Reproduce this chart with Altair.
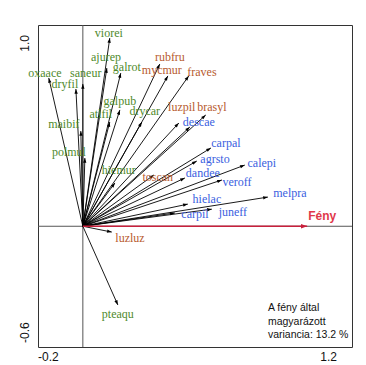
import altair as alt
import pandas as pd

# ---- data ----
species = ["viorei", "ajurep", "galrot", "saneur", "oxaace", "dryfil", "maibif", "polmul",
           "galpub", "atlfil", "drycar", "hiemur", "pteaqu",
           "rubfru", "mycmur", "fraves", "luzpil", "brasyl", "toscan", "luzluz",
           "descae", "carpal", "agrsto", "calepi", "dandee", "veroff", "melpra",
           "hielac", "carpil", "juneff"]
group = ["g"] * 13 + ["o"] * 7 + ["b"] * 10
tip_x = [0.120, 0.107, 0.169, 0.000, -0.152, -0.031, -0.009, 0.009,
         0.165, 0.120, 0.263, 0.143, 0.156,
         0.343, 0.379, 0.472, 0.428, 0.548, 0.317, 0.129,
         0.477, 0.571, 0.508, 0.722, 0.455, 0.620, 0.825,
         0.468, 0.410, 0.575]
tip_y = [0.935, 0.786, 0.761, 0.707, 0.737, 0.682, 0.473, 0.339,
         0.578, 0.518, 0.518, 0.215, -0.391,
         0.806, 0.747, 0.747, 0.513, 0.553, 0.255, -0.029,
         0.493, 0.389, 0.324, 0.304, 0.240, 0.230, 0.145,
         0.110, 0.066, 0.085]
lab_x = [0.116, 0.103, 0.196, 0.013, -0.169, -0.080, -0.085, -0.062,
         0.165, 0.080, 0.276, 0.160, 0.156,
         0.388, 0.352, 0.531, 0.441, 0.575, 0.334, 0.210,
         0.517, 0.638, 0.589, 0.798, 0.535, 0.687, 0.923,
         0.553, 0.500, 0.669]
lab_y = [0.960, 0.841, 0.791, 0.761, 0.761, 0.707, 0.508, 0.369,
         0.622, 0.558, 0.573, 0.280, -0.436,
         0.841, 0.776, 0.766, 0.592, 0.592, 0.245, -0.058,
         0.518, 0.414, 0.334, 0.314, 0.265, 0.220, 0.165,
         0.135, 0.061, 0.071]

env_name = ["Fény"]
env_x = [1.0]
env_y = [0.0]

x_ticks = [-0.2, 0.0, 0.2, 0.4, 0.6, 0.8, 1.0, 1.2]
y_ticks = [-0.6, -0.4, -0.2, 0.0, 0.2, 0.4, 0.6, 0.8, 1.0]
note_lines = ["A fény által", "magyarázott", "variancia: 13.2 %"]

# ---- layout ----
W, H = 314, 322
XD, YD = [-0.2, 1.2], [-0.6, 1.0]
PXX = W / (XD[1] - XD[0])
PXY = H / (YD[1] - YD[0])

HEAD = "M0,0L-0.35,1L0.35,1Z"
GREEN, ORANGE, BLUE = "#4f8a2c", "#b75a2e", "#3a60e0"

df = pd.DataFrame(dict(sp=species, x=tip_x, y=tip_y, lx=lab_x, ly=lab_y, grp=group))
df["x0"] = 0.0
df["y0"] = 0.0
denv = pd.DataFrame(dict(name=env_name, x=env_x, y=env_y, x0=0.0, y0=0.0))

xs = alt.Scale(domain=XD, nice=False, zero=False, padding=0)
ys = alt.Scale(domain=YD, nice=False, zero=False, padding=0)


def X(f, axis=None):
    return alt.X(f, type="quantitative", scale=xs, axis=axis)


def Y(f, axis=None):
    return alt.Y(f, type="quantitative", scale=ys, axis=axis)


xaxis = alt.Axis(values=x_ticks, labels=False, domain=False, grid=False, tickSize=3,
                 offset=-3, tickColor="#222", title=None)
yaxis = alt.Axis(values=y_ticks, labels=False, domain=False, grid=False, tickSize=3,
                 offset=-3, tickColor="#222", title=None)

zeros = pd.DataFrame({"v": [0.0]})
vline = alt.Chart(zeros).mark_rule(color="#555", strokeWidth=1).encode(
    x=X("v", xaxis))
hline = alt.Chart(zeros).mark_rule(color="#555", strokeWidth=1).encode(
    y=Y("v", yaxis))

ang_expr = f"(atan2(datum.x*{PXX}, datum.y*{PXY})*180/PI + 360) % 360"

arrows = alt.Chart(df).mark_rule(color="black", strokeWidth=0.9).encode(
    x=X("x0"), y=Y("y0"), x2="x:Q", y2="y:Q")
heads = alt.Chart(df).transform_calculate(ang=ang_expr).mark_point(
    shape=HEAD, filled=True, size=90, color="black", opacity=1, strokeWidth=0
).encode(x=X("x"), y=Y("y"), angle=alt.Angle("ang:Q", scale=None))

labels = alt.Chart(df).mark_text(font="Liberation Serif", fontSize=12, baseline="middle",
                                  align="center").encode(
    x=X("lx"), y=Y("ly"), text="sp:N",
    color=alt.Color("grp:N", scale=alt.Scale(domain=["g", "o", "b"],
                                             range=[GREEN, ORANGE, BLUE]), legend=None))

env_arrow = alt.Chart(denv).mark_rule(color="#c8203c", strokeWidth=1.6).encode(
    x=X("x0"), y=Y("y0"), x2="x:Q", y2="y:Q")
env_head = alt.Chart(denv).transform_calculate(ang=ang_expr).mark_point(
    shape=HEAD, filled=True, size=150, color="#c8203c", opacity=1, strokeWidth=0
).encode(x=X("x"), y=Y("y"), angle=alt.Angle("ang:Q", scale=None))
env_label = alt.Chart(denv).mark_text(font="Liberation Sans", fontSize=12, fontWeight="bold",
                                      color="#e0384a", align="left", baseline="middle",
                                      dx=1, dy=-10).encode(
    x=X("x"), y=Y("y"), text="name:N")

notes = pd.DataFrame({"t": note_lines, "i": [0, 1, 2]})
notes["x"] = 0.825
notes["y"] = [-0.406, -0.474, -0.540]
note_text = alt.Chart(notes).mark_text(font="Liberation Sans", fontSize=10.5, align="left",
                                       baseline="middle", color="#111").encode(
    x=X("x"), y=Y("y"), text="t:N")

# axis end labels
xl = pd.DataFrame({"x": [XD[0], XD[1]], "y": [YD[0], YD[0]], "t": ["-0.2", "1.2"]})
yl = pd.DataFrame({"x": [XD[0], XD[0]], "y": [YD[1], YD[0]], "t": ["1.0", "-0.6"]})
xlab_l = alt.Chart(xl.iloc[[0]]).mark_text(font="Liberation Sans", fontSize=12, align="left",
                                           baseline="middle", dy=10, color="#111").encode(
    x=X("x"), y=Y("y"), text="t:N")
xlab_r = alt.Chart(xl.iloc[[1]]).mark_text(font="Liberation Sans", fontSize=12, align="right",
                                           baseline="middle", dy=10, dx=-15, color="#111").encode(
    x=X("x"), y=Y("y"), text="t:N")
ylab_t = alt.Chart(yl.iloc[[0]]).mark_text(font="Liberation Sans", fontSize=12, align="right",
                                           baseline="middle", angle=270, dx=-10, dy=-13,
                                           color="#111").encode(
    x=X("x"), y=Y("y"), text="t:N")
ylab_b = alt.Chart(yl.iloc[[1]]).mark_text(font="Liberation Sans", fontSize=12, align="left",
                                           baseline="middle", angle=270, dx=4, dy=-13,
                                           color="#111").encode(
    x=X("x"), y=Y("y"), text="t:N")

chart = alt.layer(
    vline, hline, arrows, heads, env_arrow, env_head, labels, env_label, note_text,
    xlab_l, xlab_r, ylab_t, ylab_b
).properties(
    width=W, height=H,
    autosize=alt.AutoSizeParams(type="none"),
    padding={"left": 30, "top": 17, "right": 6, "bottom": 16},
    background="white",
).configure_view(stroke="#333", strokeWidth=1)

chart.save("out.html", embed_options={"renderer": "svg", "actions": False})
